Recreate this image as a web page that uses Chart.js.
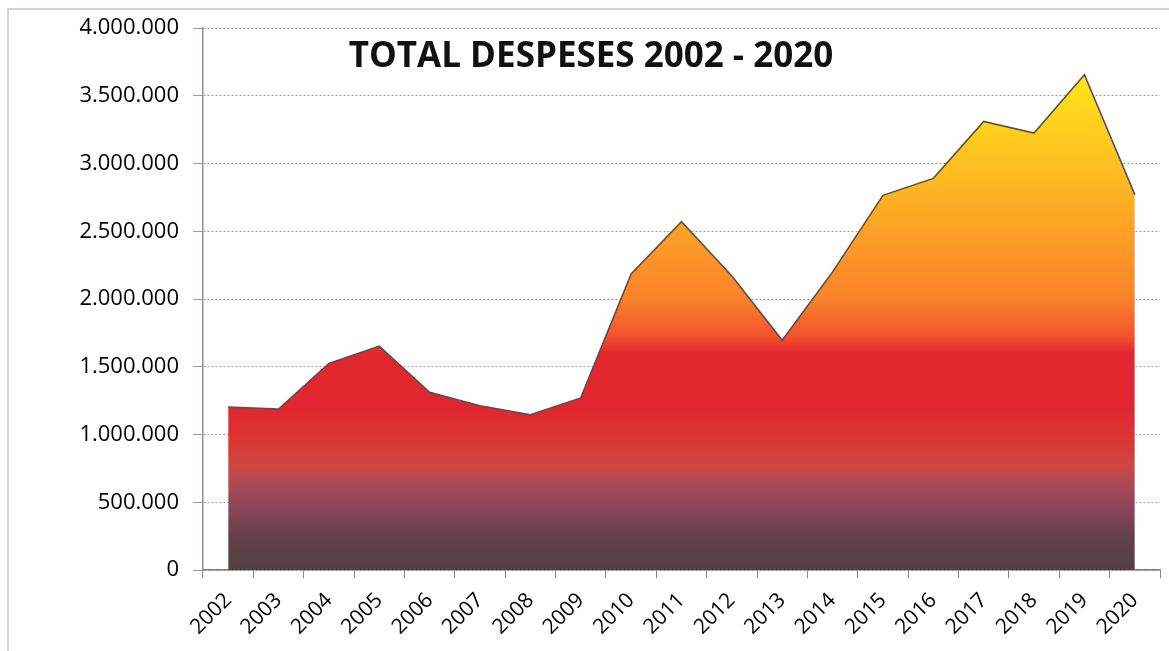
<!DOCTYPE html>
<html lang="ca">
<head>
<meta charset="UTF-8">
<title>Total despeses 2002 - 2020</title>
<script src="https://cdn.jsdelivr.net/npm/chart.js@4"></script>
<style>
    body { margin: 0; background: #fff; overflow: hidden; }
    .wrap { position: relative; width: 1169px; height: 651px; }
    .frame { position: absolute; left: 7px; top: 8px; width: 1170px; height: 660px; border: 2px solid #cfd3da; box-sizing: border-box; }
    .title { position: absolute; left: 591px; top: 30px; transform: translateX(-50%); white-space: nowrap;
             font-family: "Open Sans", sans-serif; font-weight: bold; font-size: 35px; color: #111; }
    canvas { position: absolute; left: 0; top: 0; }
</style>
</head>
<body>
<div class="wrap">
    <div class="frame"></div>
    <canvas id="chart" width="1169" height="651"></canvas>
    <div class="title">TOTAL DESPESES 2002 - 2020</div>
</div>
<script>
// data
const years = ['2002', '2003', '2004', '2005', '2006', '2007', '2008', '2009', '2010', '2011',
               '2012', '2013', '2014', '2015', '2016', '2017', '2018', '2019', '2020'];
const despeses = [1203000, 1188000, 1525000, 1652000, 1312000, 1212000, 1145000, 1270000, 2185000, 2570000,
                  2170000, 1695000, 2200000, 2765000, 2890000, 3310000, 3225000, 3655000, 2770000];
const yMax = 4000000;
const yStep = 500000;

// thousands with a dot, like the original
function fmt(v) {
    return String(v).replace(/\B(?=(\d{3})+(?!\d))/g, '.');
}

// vertical gradient over the chart area (brown at the bottom -> mauve -> red -> orange -> yellow)
function areaFill(ctx) {
    const area = ctx.chart.chartArea;
    if (!area) return '#e0262e';
    const g = ctx.chart.ctx.createLinearGradient(0, area.bottom, 0, area.top);
    g.addColorStop(0.00, '#514140');
    g.addColorStop(0.06, '#62404a');
    g.addColorStop(0.11, '#884558');
    g.addColorStop(0.16, '#ac4a56');
    g.addColorStop(0.19, '#cc4840');
    g.addColorStop(0.24, '#dc3534');
    g.addColorStop(0.30, '#e0262e');
    g.addColorStop(0.40, '#e2262e');
    g.addColorStop(0.43, '#f2522d');
    g.addColorStop(0.50, '#fa822b');
    g.addColorStop(0.62, '#fd9f26');
    g.addColorStop(0.75, '#ffc020');
    g.addColorStop(0.90, '#ffe21b');
    g.addColorStop(1.00, '#ffee1a');
    return g;
}

new Chart(document.getElementById('chart'), {
    type: 'line',
    data: {
        labels: years,
        datasets: [{
            data: despeses,
            fill: 'origin',
            backgroundColor: areaFill,
            borderColor: '#57524d',
            borderWidth: 1.6,
            pointRadius: 0,
            tension: 0
        }]
    },
    options: {
        responsive: false,
        animation: false,
        layout: { padding: { top: 28, right: 9, left: 0, bottom: 0 } },
        plugins: { legend: { display: false }, tooltip: { enabled: false } },
        scales: {
            x: {
                offset: true,
                afterFit: s => { s.height = 81; },
                grid: { offset: true, drawOnChartArea: false, drawTicks: true, tickLength: 8, color: '#8a8a8a' },
                border: { color: '#7d7d7d', width: 1.5 },
                ticks: {
                    minRotation: 45, maxRotation: 45, padding: 10, autoSkip: false,
                    color: '#000', font: { family: 'Open Sans', size: 21 }
                }
            },
            y: {
                min: 0, max: yMax,
                afterFit: s => { s.width = 203; },
                grid: { color: '#9a9a9a', tickLength: 10, tickColor: '#9a9a9a' },
                border: { color: '#8792a6', width: 1.5, dash: [2, 2] },
                ticks: {
                    stepSize: yStep, padding: 14,
                    color: '#000', font: { family: 'Open Sans', size: 22 },
                    callback: v => fmt(v)
                }
            }
        }
    }
});
</script>
</body>
</html>
